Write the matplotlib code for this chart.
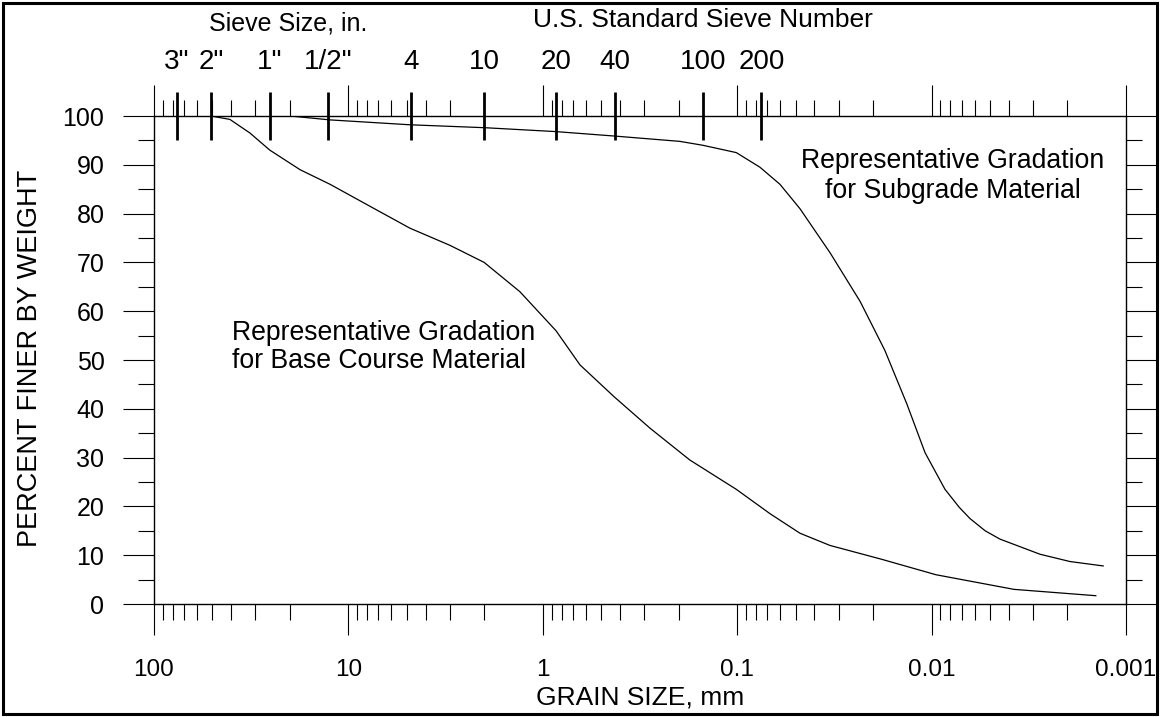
import matplotlib
matplotlib.use("Agg")
import matplotlib.pyplot as plt
import matplotlib.ticker as mt
from matplotlib.patches import Rectangle

plt.rcParams['font.family'] = ['Liberation Sans', 'DejaVu Sans']

# sieve openings (mm) and their names
sieve_mm = [76.2, 50.8, 25.4, 12.7, 4.75, 2.0, 0.85, 0.425, 0.15, 0.075]
sieve_labels = ['3"', '2"', '1"', '1/2"', '4', '10', '20', '40', '100', '200']

# grain size axis ticks
grain_ticks = [100, 10, 1, 0.1, 0.01, 0.001]
grain_labels = ['100', '10', '1', '0.1', '0.01', '0.001']

# base course gradation
base_d = [50.8, 40.6, 32.0, 25.3, 17.7, 12.4, 7.73, 4.81, 3.0, 2.0, 1.31, 0.854,
          0.643, 0.43, 0.28, 0.175, 0.101, 0.0677, 0.0475, 0.0333, 0.0182,
          0.0095, 0.00377, 0.00143]
base_pct = [100, 99.3, 96.5, 93, 89, 86, 81.5, 77, 73.5, 70, 64, 56,
            49, 42.5, 36, 29.5, 23.5, 18.5, 14.5, 12, 9.2,
            6, 3, 1.7]

# subgrade gradation
sub_d = [50.8, 19.9, 12.4, 4.81, 1.98, 0.854, 0.43, 0.197, 0.150, 0.101,
         0.0763, 0.0602, 0.0475, 0.0333, 0.0233, 0.0174, 0.0134, 0.0108,
         0.00853, 0.0072, 0.00634, 0.0053, 0.00445, 0.00277, 0.00194, 0.00131]
sub_pct = [100, 100, 99.2, 98.2, 97.6, 96.8, 95.9, 94.8, 94.0, 92.5,
           89.5, 86, 81, 72, 62, 52, 41, 31,
           23.5, 19.8, 17.5, 15, 13.3, 10.2, 8.7, 7.8]

W, H = 1161, 717
fig = plt.figure(figsize=(W / 100, H / 100), dpi=100)
ax = fig.add_axes([153.8 / W, (H - 604) / H, (1126 - 153.8) / W, (604 - 116) / H])

ax.plot(base_d, base_pct, color='black', lw=0.9)
ax.plot(sub_d, sub_pct, color='black', lw=0.9)

ax.set_xscale('log')
ax.set_xlim(100, 0.001)
ax.set_ylim(0, 100)

ax.set_xticks(grain_ticks)
ax.set_xticklabels(grain_labels)
ax.xaxis.set_minor_locator(mt.LogLocator(base=10, subs=range(2, 10), numticks=20))
ax.xaxis.set_minor_formatter(mt.NullFormatter())
ax.set_yticks(range(0, 101, 10))
ax.set_yticks(range(5, 100, 10), minor=True)

ax.tick_params(which='both', direction='out', top=True, right=True,
               width=0.8, color='black')
ax.tick_params(which='major', length=22.5)
ax.tick_params(which='minor', length=11.5)
ax.tick_params(axis='y', pad=13, labelsize=18)
ax.tick_params(axis='x', pad=17, labelsize=17.5)
for s in ax.spines.values():
    s.set_linewidth(1.0)

# sieve marks across the top edge
ax.vlines(sieve_mm, 95, 105, colors='black', lw=2.0, clip_on=False)
for d, lab in zip(sieve_mm, sieve_labels):
    ax.text(d, 111, lab, fontsize=20, ha='center', va='center', clip_on=False)

fig.text(288 / W, 1 - 23 / H, 'Sieve Size, in.', fontsize=18, ha='center', va='center')
fig.text(703 / W, 1 - 20 / H, 'U.S. Standard Sieve Number', fontsize=19,
         ha='center', va='center')
fig.text(640 / W, 1 - 697 / H, 'GRAIN SIZE, mm', fontsize=19, ha='center', va='center')
fig.text(30 / W, 1 - 358 / H, 'PERCENT FINER BY WEIGHT', fontsize=19.5,
         rotation=90, ha='center', va='center')

fig.text(232 / W, 1 - 347 / H, 'Representative Gradation\nfor Base Course Material',
         fontsize=19.2, ha='left', va='center', linespacing=1.15)
fig.text(953 / W, 1 - 176 / H, 'Representative Gradation\nfor Subgrade Material',
         fontsize=19.2, ha='center', va='center', linespacing=1.15)

# frame around the whole figure
fig.patches.append(Rectangle((3 / W, 3 / H), (1157 - 3) / W, (714 - 3) / H,
                             transform=fig.transFigure, fill=False,
                             edgecolor='black', lw=2.2))

fig.savefig('out.png', dpi=100)
